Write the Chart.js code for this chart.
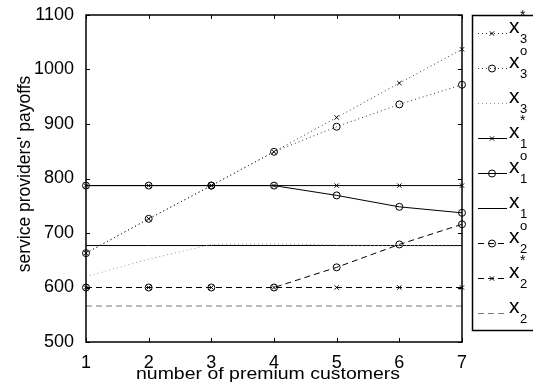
<!DOCTYPE html>
<html><head><meta charset="utf-8">
<script src="https://cdn.jsdelivr.net/npm/chart.js@4"></script>
<style>html,body{margin:0;padding:0;background:#fff}#wrap{width:533px;height:386px}</style>
</head><body><div id="wrap"><canvas id="c" width="533" height="386"></canvas></div>
<script>
const customers = [1, 2, 3, 4, 5, 6, 7];
const x3Star = [663, 726, 787, 849, 912, 975, 1037];
const x3O    = [663, 726, 787, 849, 895, 936, 972];
const x3     = [620, 652, 679, 680, 678, 677, 676];
const x1Star = [787, 787, 787, 787, 787, 787, 787];
const x1O    = [787, 787, 787, 787, 769, 748, 737];
const x1     = [677, 677, 677, 677, 677, 677, 677];
const x2O    = [600, 600, 600, 600, 637, 679, 716];
const x2Star = [600, 600, 600, 600, 600, 600, 600];
const x2     = [566, 566, 566, 566, 566, 566, 566];
const yTicks = [500, 600, 700, 800, 900, 1000, 1100];
const legendNames = [['3','*'],['3','o'],['3',''],['1','*'],['1','o'],['1',''],['2','o'],['2','*'],['2','']];

const DOT = [1, 3], DASH = [6, 4];
function ds(data, color, dash, marker) {
  return {
    data: customers.map((c, i) => ({x: c, y: data[i]})),
    borderColor: color, backgroundColor: 'rgba(0,0,0,0)',
    borderWidth: 1, borderDash: dash,
    pointStyle: marker || 'circle', pointRadius: marker ? (marker === 'crossRot' ? 3 : 3.5) : 0,
    pointBorderColor: '#000', pointBackgroundColor: 'rgba(0,0,0,0)', pointBorderWidth: 1,
    tension: 0, clip: false
  };
}
const datasets = [
  ds(x3Star, '#333', DOT, 'crossRot'),
  ds(x3O, '#333', DOT, 'circle'),
  ds(x3, '#999', DOT, null),
  ds(x1Star, '#000', [], 'crossRot'),
  ds(x1O, '#000', [], 'circle'),
  ds(x1, '#000', [], null),
  ds(x2O, '#000', DASH, 'circle'),
  ds(x2Star, '#000', DASH, 'crossRot'),
  ds(x2, '#777', DASH, null)
];

const FONT = 'Arial, "Liberation Sans", Helvetica, sans-serif';

const framePlugin = {
  id: 'frame',
  afterDraw(chart) {
    const ctx = chart.ctx, a = chart.chartArea;
    const xs = chart.scales.x, ys = chart.scales.y;
    ctx.save();
    ctx.strokeStyle = '#000'; ctx.lineWidth = 1.5; ctx.setLineDash([]);
    ctx.strokeRect(a.left, a.top, a.right - a.left, a.bottom - a.top);
    ctx.lineWidth = 1;
    ctx.beginPath();
    customers.forEach(c => {
      const px = Math.round(xs.getPixelForValue(c)) + 0.5;
      ctx.moveTo(px, a.bottom); ctx.lineTo(px, a.bottom - 4);
      ctx.moveTo(px, a.top); ctx.lineTo(px, a.top + 4);
    });
    yTicks.forEach(v => {
      const py = Math.round(ys.getPixelForValue(v)) + 0.5;
      ctx.moveTo(a.left, py); ctx.lineTo(a.left + 4, py);
      ctx.moveTo(a.right, py); ctx.lineTo(a.right - 4, py);
    });
    ctx.stroke();
    // axis titles
    ctx.fillStyle = '#000';
    ctx.font = '16.5px ' + FONT;
    ctx.textAlign = 'center'; ctx.textBaseline = 'alphabetic';
    ctx.save();
    ctx.translate(268, 379);
    ctx.scale(1.18, 1);
    ctx.fillText('number of premium customers', 0, 0);
    ctx.restore();
    ctx.save();
    ctx.font = '17.5px ' + FONT;
    ctx.textBaseline = 'middle';
    ctx.translate(25, 174);
    ctx.rotate(-Math.PI / 2);
    ctx.fillText("service providers' payoffs", 0, 0);
    ctx.restore();
    // legend
    const lx = 472.5, ltop = 15.5, lbot = 330.5;
    ctx.lineWidth = 1.5;
    ctx.strokeRect(lx, ltop, 600, lbot - ltop);
    chart.data.datasets.forEach((d, i) => {
      const y = 33 + i * 35;
      ctx.save();
      ctx.strokeStyle = d.borderColor; ctx.lineWidth = 1; ctx.setLineDash(d.borderDash);
      ctx.beginPath(); ctx.moveTo(478, y + 0.5); ctx.lineTo(507, y + 0.5); ctx.stroke();
      ctx.restore();
      if (d.pointRadius > 0) {
        ctx.save();
        ctx.strokeStyle = '#000'; ctx.fillStyle = 'rgba(0,0,0,0)'; ctx.lineWidth = 1; ctx.setLineDash([]);
        Chart.helpers.drawPoint(ctx, {pointStyle: d.pointStyle, radius: d.pointRadius, borderWidth: 1, rotation: 0}, 492, y + 0.5);
        ctx.restore();
      }
      ctx.fillStyle = '#000';
      ctx.textAlign = 'left'; ctx.textBaseline = 'alphabetic';
      ctx.font = '21px ' + FONT;
      ctx.fillText('x', 509, y + 0);
      ctx.font = '13px ' + FONT;
      ctx.fillText(legendNames[i][0], 520, y + 10);
      if (legendNames[i][1]) {
        ctx.font = (legendNames[i][1] === '*' ? '14px ' : '13px ') + FONT;
        ctx.fillText(legendNames[i][1], 520, y - 13);
      }
    });
    ctx.restore();
  }
};

new Chart(document.getElementById('c'), {
  type: 'line',
  data: { datasets },
  options: {
    responsive: false, animation: false,
    layout: { padding: { top: 15, right: 71, left: 0, bottom: 0 } },
    plugins: { legend: { display: false }, tooltip: { enabled: false } },
    scales: {
      x: {
        type: 'linear', min: 1, max: 7,
        grid: { display: false }, border: { display: false },
        ticks: { stepSize: 1, color: '#000', font: { size: 18, family: FONT }, padding: 2, callback: v => String(v) },
        afterFit(s) { s.height = 44; }
      },
      y: {
        min: 500, max: 1100,
        grid: { display: false }, border: { display: false },
        ticks: { stepSize: 100, color: '#000', font: { size: 18, family: FONT }, padding: 4, callback: v => String(v) },
        afterFit(s) { s.width = 86; }
      }
    }
  },
  plugins: [framePlugin]
});
</script></body></html>
